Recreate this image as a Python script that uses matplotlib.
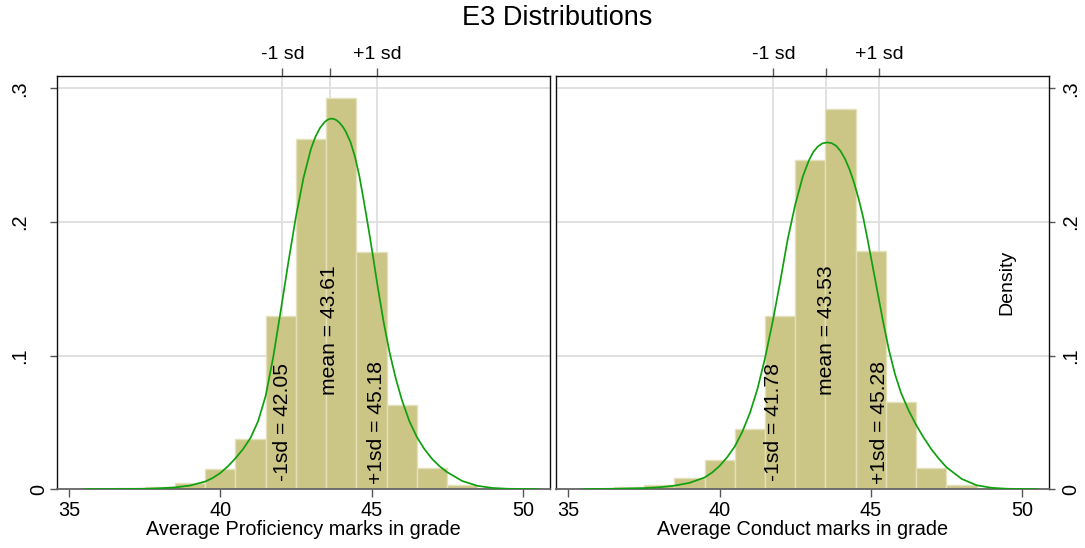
import matplotlib
matplotlib.use("Agg")
import matplotlib.pyplot as plt

plt.rcParams['font.family'] = ['Liberation Sans', 'DejaVu Sans']

# ---------------- data ----------------
title = "E3 Distributions"
bin_lefts = [35.5, 36.5, 37.5, 38.5, 39.5, 40.5, 41.5, 42.5, 43.5, 44.5,
             45.5, 46.5, 47.5, 48.5, 49.5]
bin_width = 1.0

prof_heights = [0.0005, 0.0008, 0.0016, 0.0045, 0.0150, 0.0374, 0.1300, 0.2618,
                0.2925, 0.1772, 0.0628, 0.0157, 0.0032, 0.0005, 0.0003]
cond_heights = [0.0005, 0.0020, 0.0030, 0.0088, 0.0220, 0.0449, 0.1297, 0.2464,
                0.2848, 0.1782, 0.0651, 0.0162, 0.0034, 0.0005, 0.0003]

prof_curve_x = [35.5, 36.5, 37.5, 38.0, 38.5, 39.0, 39.5, 39.75, 40.0, 40.25, 40.5,
                40.75, 41.0, 41.25, 41.5, 41.75, 42.0, 42.25, 42.5, 42.75, 43.0,
                43.15, 43.3, 43.45, 43.55, 43.65, 43.75, 43.85, 43.95, 44.05, 44.15,
                44.3, 44.45, 44.6, 44.75, 44.9, 45.05, 45.2, 45.4, 45.6, 45.8, 46.0,
                46.25, 46.5, 46.75, 47.0, 47.25, 47.5, 48.0, 48.5, 49.0, 49.5, 50.5]
prof_curve_y = [0.0001, 0.0002, 0.0004, 0.0008, 0.0014, 0.0028, 0.0058, 0.0085, 0.0122,
                0.0172, 0.0232, 0.0300, 0.0385, 0.0510, 0.0700, 0.0990, 0.1340, 0.1700,
                0.2040, 0.2330, 0.2550, 0.2640, 0.2705, 0.2748, 0.2765, 0.2773, 0.2771,
                0.2760, 0.2740, 0.2712, 0.2675, 0.2600, 0.2490, 0.2340, 0.2150, 0.1950,
                0.1740, 0.1520, 0.1250, 0.1020, 0.0830, 0.0670, 0.0510, 0.0390, 0.0300,
                0.0228, 0.0172, 0.0128, 0.0062, 0.0026, 0.0010, 0.0004, 0.0001]

cond_curve_x = [35.5, 36.5, 37.5, 38.0, 38.5, 39.0, 39.5, 39.75, 40.0, 40.25, 40.5,
                40.75, 41.0, 41.25, 41.5, 41.75, 42.0, 42.25, 42.5, 42.75, 42.95,
                43.1, 43.25, 43.4, 43.55, 43.7, 43.85, 44.0, 44.15, 44.3, 44.45,
                44.6, 44.75, 44.9, 45.05, 45.2, 45.4, 45.6, 45.8, 46.0, 46.25, 46.5,
                46.75, 47.0, 47.25, 47.5, 48.0, 48.5, 49.0, 49.5, 50.5]
cond_curve_y = [0.0002, 0.0004, 0.0009, 0.0015, 0.0027, 0.0048, 0.0088, 0.0125, 0.0175,
                0.0240, 0.0320, 0.0430, 0.0570, 0.0750, 0.0980, 0.1250, 0.1550, 0.1870,
                0.2130, 0.2340, 0.2460, 0.2525, 0.2565, 0.2588, 0.2595, 0.2590, 0.2570,
                0.2530, 0.2470, 0.2390, 0.2290, 0.2170, 0.2030, 0.1860, 0.1680, 0.1500,
                0.1260, 0.1040, 0.0860, 0.0720, 0.0590, 0.0480, 0.0385, 0.0300, 0.0228,
                0.0165, 0.0078, 0.0030, 0.0011, 0.0004, 0.0001]

prof_stats = [42.05, 43.61, 45.18]   # -1sd, mean, +1sd
cond_stats = [41.78, 43.53, 45.28]

xlabels = ["Average Proficiency marks in grade", "Average Conduct marks in grade"]
xticks = [35, 40, 45, 50]
yticks = [0, 0.1, 0.2, 0.3]
ytick_labels = ["0", ".1", ".2", ".3"]
top_labels = ["-1 sd", "", "+1 sd"]

# ---------------- style ----------------
BAR = '#CBC586'
BAR_EDGE = '#E4E0BC'
CURVE = '#0FA00F'
GRID = '#DEDEDE'
W, H = 1085, 548

fig = plt.figure(figsize=(W / 100, H / 100), dpi=100)
fig.patch.set_facecolor('white')

ax_bottom = (H - 489.3) / H
ax_height = 413.3 / H
ax_width = 493.3 / W
axL = fig.add_axes([56.7 / W, ax_bottom, ax_width, ax_height])
axR = fig.add_axes([556.0 / W, ax_bottom, ax_width, ax_height])

panels = [
    (axL, prof_heights, prof_curve_x, prof_curve_y, prof_stats, xlabels[0]),
    (axR, cond_heights, cond_curve_x, cond_curve_y, cond_stats, xlabels[1]),
]

for ax, heights, cx, cy, stats, xl in panels:
    ax.set_xlim(34.59, 50.9)
    ax.set_ylim(0, 0.3092)
    ax.set_axisbelow(True)

    ax.bar(bin_lefts, heights, width=bin_width, align='edge', color=BAR,
           edgecolor=BAR_EDGE, linewidth=1.0, zorder=2)
    ax.plot(cx, cy, color=CURVE, linewidth=1.25, zorder=3,
            solid_joinstyle='round', antialiased=True)

    # grid: horizontal at y ticks, vertical at sd/mean
    ax.set_yticks(yticks)
    ax.set_yticklabels(ytick_labels)
    ax.set_xticks(xticks)
    ax.set_xticks(stats, minor=True)
    ax.grid(axis='y', which='major', color=GRID, linewidth=1.3, zorder=0)
    ax.grid(axis='x', which='minor', color=GRID, linewidth=1.3, zorder=0)
    ax.grid(axis='x', which='major', visible=False)
    ax.tick_params(axis='x', which='minor', length=0, labelbottom=False)
    ax.tick_params(axis='x', which='major', direction='out', length=5.8, width=1.0,
                   color='#555555', labelsize=14.3, pad=2.5)

    for sp in ['top', 'left', 'right']:
        ax.spines[sp].set_color('#111111')
        ax.spines[sp].set_linewidth(1.0)
    ax.spines['bottom'].set_color('#666666')
    ax.spines['bottom'].set_linewidth(1.3)

    ax.set_xlabel(xl, fontsize=14.3, labelpad=0)

    # top axis: -1 sd / mean / +1 sd
    top = ax.secondary_xaxis('top')
    top.set_xticks(stats)
    top.set_xticklabels(top_labels)
    top.tick_params(axis='x', direction='out', length=6.0, width=1.0,
                    color='#555555', labelsize=14, pad=3.5)
    top.spines['top'].set_visible(False)

    # annotations
    ax.text(stats[0], 0.05, f"-1sd = {stats[0]:.2f}", rotation=90,
            ha='center', va='center', fontsize=15.2, zorder=4)
    ax.text(stats[1], 0.119, f"mean = {stats[1]:.2f}", rotation=90,
            ha='center', va='center', fontsize=15.2, zorder=4)
    ax.text(stats[2], 0.05, f"+1sd = {stats[2]:.2f}", rotation=90,
            ha='center', va='center', fontsize=15.2, zorder=4)

# left panel y axis
axL.tick_params(axis='y', which='major', left=True, right=False, labelleft=True,
                labelright=False, direction='out', length=5.3, width=1.0,
                color='#555555', labelsize=14.3, labelrotation=90, pad=14.6)
for lab in axL.get_yticklabels():
    lab.set_ha('right')
    lab.set_va('center')
ticksL = axL.yaxis.get_major_ticks()
ticksL[0].label1.set_x(19.0 / 493.3)

# right panel y axis
axR.yaxis.tick_right()
axR.tick_params(axis='y', which='major', left=False, right=True, labelleft=False,
                labelright=True, direction='out', length=4.5, width=1.0,
                color='#555555', labelsize=14.3, labelrotation=90, pad=4.3)
for lab in axR.get_yticklabels():
    lab.set_ha('left')
    lab.set_va('center')

axR.text(49.5, 0.155, "Density", rotation=90, ha='center', va='center', fontsize=14)

fig.text(557 / W, 1 - 18 / H, title, ha='center', va='center', fontsize=19.5)

fig.savefig("out.png", dpi=100, facecolor='white')
